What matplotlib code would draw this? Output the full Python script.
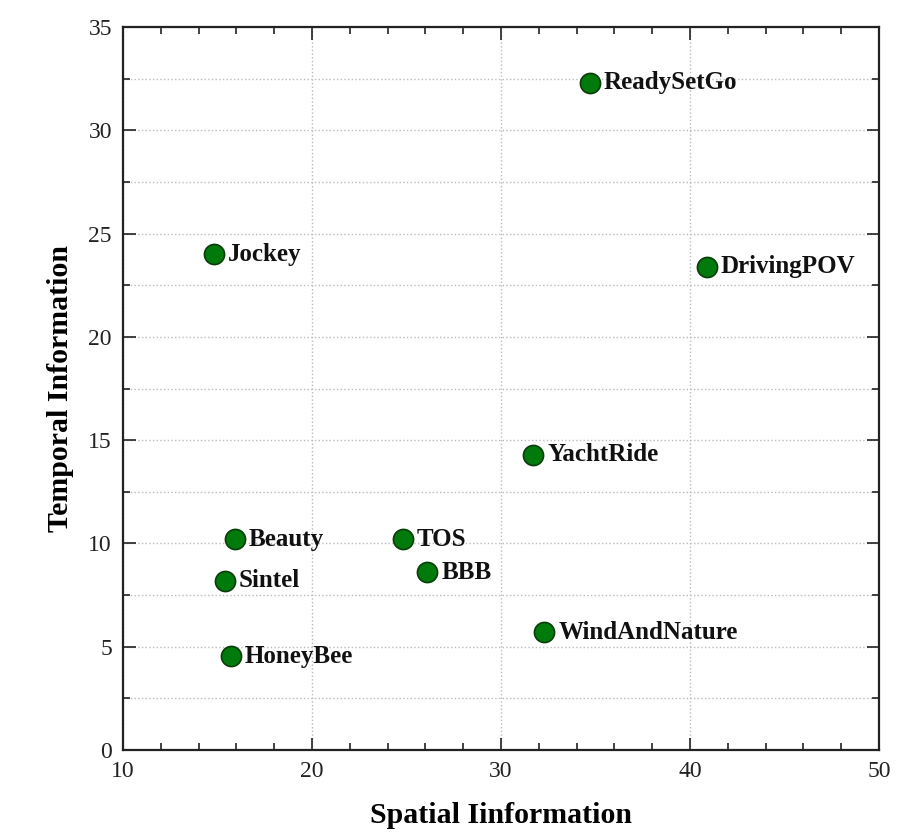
import matplotlib.pyplot as plt
from matplotlib.ticker import MultipleLocator

names = ['ReadySetGo', 'DrivingPOV', 'Jockey', 'YachtRide', 'Beauty', 'TOS',
         'BBB', 'Sintel', 'WindAndNature', 'HoneyBee']
si = [34.7, 40.9, 14.8, 31.7, 15.9, 24.8, 26.1, 15.4, 32.3, 15.7]
ti = [32.3, 23.4, 24.0, 14.3, 10.2, 10.2, 8.6, 8.2, 5.7, 4.55]

plt.rcParams['font.family'] = ['Liberation Serif', 'DejaVu Serif']

fig = plt.figure(figsize=(9.16, 8.32), dpi=100)
ax = fig.add_axes([123 / 916, 1 - 750 / 832, 756 / 916, 723 / 832])

ax.scatter(si, ti, s=210, color='#007a0a', edgecolors='#0b3d0b', linewidths=1.2, zorder=3)
for x, y, n in zip(si, ti, names):
    ax.annotate(n, (x, y), xytext=(10, 0), textcoords='offset points',
                va='center', ha='left', fontsize=18, fontweight='bold', color='#111111')

ax.set_xlim(10, 50)
ax.set_ylim(0, 35)
ax.xaxis.set_major_locator(MultipleLocator(10))
ax.xaxis.set_minor_locator(MultipleLocator(2))
ax.yaxis.set_major_locator(MultipleLocator(5))
ax.yaxis.set_minor_locator(MultipleLocator(2.5))

ax.grid(True, which='major', axis='both', linestyle=':', color='#bbbbbb', linewidth=1)
ax.grid(True, which='minor', axis='y', linestyle=':', color='#bbbbbb', linewidth=1)
ax.set_axisbelow(True)

ax.tick_params(which='both', direction='in', top=True, right=True, colors='#222222',
               labelsize=17, width=1.2, pad=8)
ax.tick_params(which='major', length=9)
ax.tick_params(which='minor', length=5)
for sp in ax.spines.values():
    sp.set_linewidth(1.6)
    sp.set_color('#222222')

ax.set_xlabel('Spatial Iinformation', fontsize=21.5, fontweight='bold', labelpad=14)
ax.set_ylabel('Temporal Information', fontsize=21.5, fontweight='bold', labelpad=10)

fig.savefig('out.png', dpi=100)
